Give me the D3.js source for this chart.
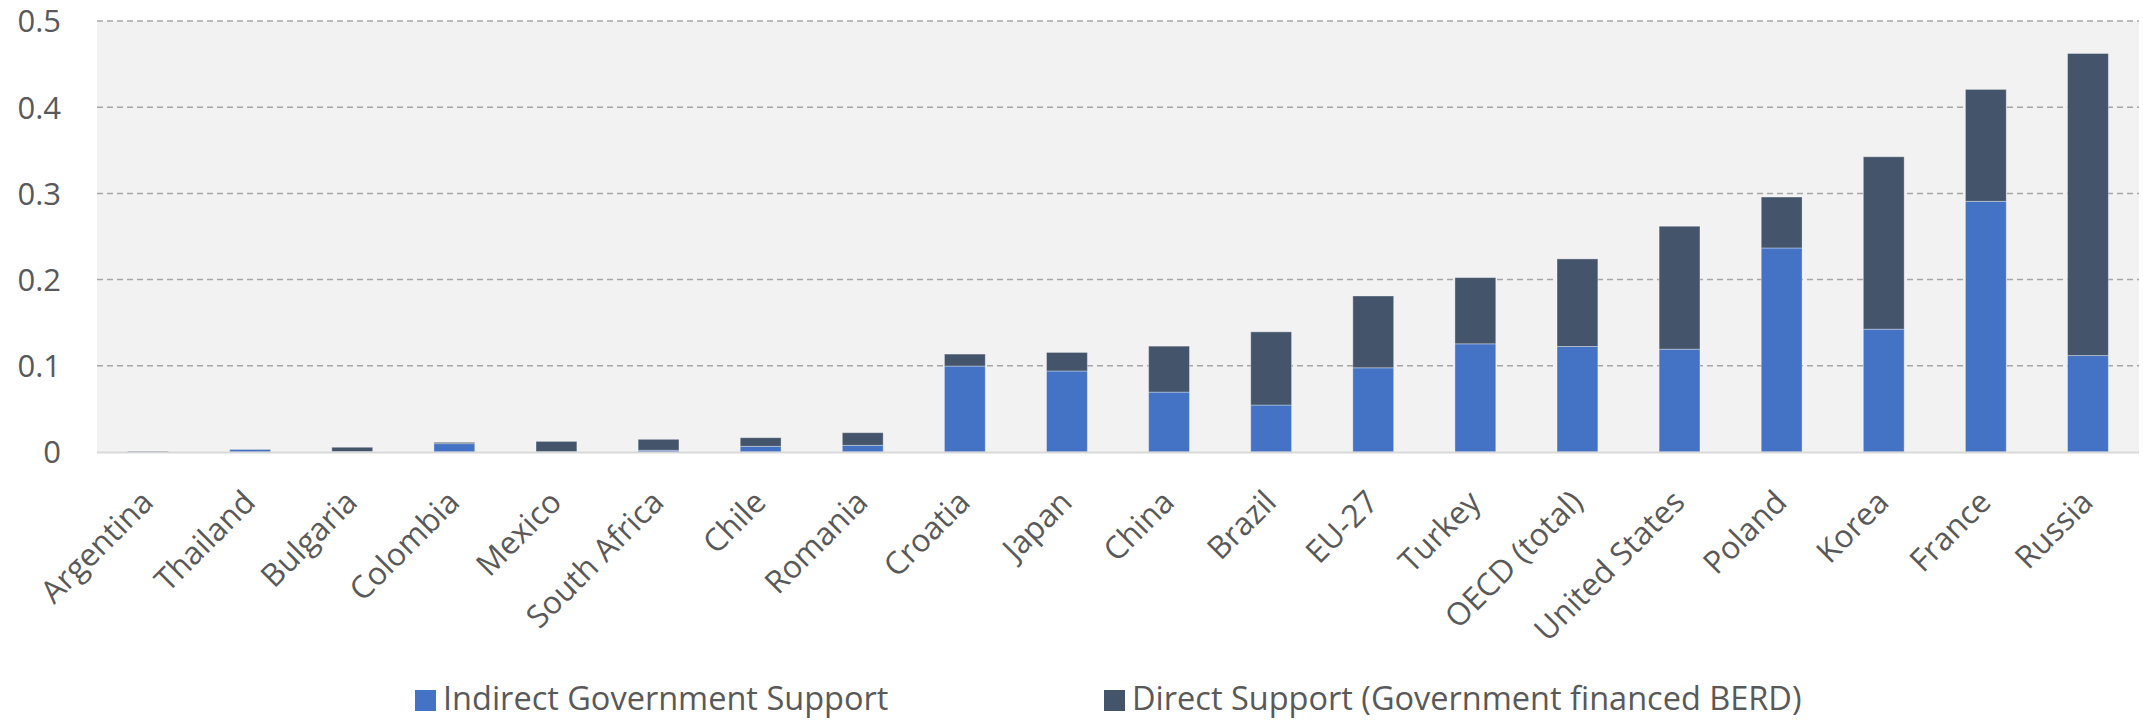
<!DOCTYPE html>
<html>
<head>
<meta charset="utf-8">
<script src="https://cdn.jsdelivr.net/npm/d3@7/dist/d3.min.js"></script>
<style>
  html, body { margin: 0; padding: 0; background: #ffffff; }
  svg { display: block; }
  text { font-family: "Open Sans", "Noto Sans", sans-serif; fill: #595959; }
</style>
</head>
<body>
<svg id="chart" width="2143" height="721"></svg>
<script>
// Government support for business R&D, % of GDP
const countries = ["Argentina", "Thailand", "Bulgaria", "Colombia", "Mexico", "South Africa", "Chile",
  "Romania", "Croatia", "Japan", "China", "Brazil", "EU-27", "Turkey", "OECD (total)",
  "United States", "Poland", "Korea", "France", "Russia"];

const indirectSupport = [0.0003, 0.003, 0.0005, 0.0097, 0.0003, 0.002, 0.0066, 0.0077, 0.0997, 0.094,
  0.0695, 0.0545, 0.0977, 0.1255, 0.1224, 0.1193, 0.2367, 0.1425, 0.2908, 0.1119];

const directSupport = [0.0008, 0.0003, 0.005, 0.0015, 0.012, 0.0127, 0.01, 0.0147, 0.0139, 0.0215,
  0.0533, 0.0849, 0.0833, 0.0768, 0.1016, 0.1426, 0.0591, 0.2, 0.1298, 0.3504];

const seriesNames = ["Indirect Government Support", "Direct Support (Government financed BERD)"];
const seriesColors = ["#4472C4", "#44546A"];
const yTicks = [0, 0.1, 0.2, 0.3, 0.4, 0.5];

const svg = d3.select("#chart");
const plot = { left: 97, right: 2139, top: 21, bottom: 452 };

const x = d3.scaleBand()
  .domain(countries)
  .range([plot.left, plot.right])
  .paddingInner(0.6)
  .paddingOuter(0.3);

const y = d3.scaleLinear()
  .domain([0, 0.5])
  .range([plot.bottom, plot.top]);

// plot background
svg.append("rect")
  .attr("x", plot.left)
  .attr("y", plot.top)
  .attr("width", plot.right - plot.left)
  .attr("height", plot.bottom - plot.top)
  .attr("fill", "#F2F2F2");

// dashed horizontal gridlines
svg.append("g")
  .selectAll("line")
  .data(yTicks.filter(d => d > 0))
  .join("line")
  .attr("x1", plot.left)
  .attr("x2", plot.right)
  .attr("y1", d => y(d))
  .attr("y2", d => y(d))
  .attr("stroke", "#A6A6A6")
  .attr("stroke-width", 1.5)
  .attr("stroke-dasharray", "6,4");

// y axis labels
const yAxis = d3.axisLeft(y)
  .tickValues(yTicks)
  .tickSize(0)
  .tickPadding(0)
  .tickFormat(d => d === 0 ? "0" : d3.format(".1f")(d));

const yG = svg.append("g")
  .attr("transform", `translate(${61},0)`)
  .call(yAxis);
yG.select(".domain").remove();
yG.selectAll("text")
  .attr("font-size", 31)
  .attr("font-family", "Open Sans")
  .attr("fill", "#595959")
  .attr("dy", "0.35em");

// stacked series
const rows = countries.map((c, i) => ({ country: c, indirect: indirectSupport[i], direct: directSupport[i] }));
const stack = d3.stack().keys(["indirect", "direct"]);
const layers = stack(rows);

svg.append("g")
  .selectAll("g")
  .data(layers)
  .join("g")
  .attr("fill", (d, i) => seriesColors[i])
  .selectAll("rect")
  .data(d => d)
  .join("rect")
  .attr("x", d => x(d.data.country))
  .attr("width", x.bandwidth())
  .attr("y", d => y(d[1]))
  .attr("height", d => y(d[0]) - y(d[1]))
  .attr("stroke", "rgba(255,255,255,0.35)")
  .attr("stroke-width", 1);

// baseline
svg.append("line")
  .attr("x1", plot.left)
  .attr("x2", plot.right)
  .attr("y1", y(0) + 0.5)
  .attr("y2", y(0) + 0.5)
  .attr("stroke", "#D9D9D9")
  .attr("stroke-width", 2);

// rotated category labels
svg.append("g")
  .selectAll("text")
  .data(countries)
  .join("text")
  .attr("transform", d => `translate(${x(d) + x.bandwidth() / 2 + 7},${504}) rotate(-45)`)
  .attr("text-anchor", "end")
  .attr("font-size", 31.5)
  .text(d => d);

// legend
const legendItems = [
  { name: seriesNames[0], color: seriesColors[0], x: 415 },
  { name: seriesNames[1], color: seriesColors[1], x: 1104 }
];
const legend = svg.append("g");
const li = legend.selectAll("g")
  .data(legendItems)
  .join("g")
  .attr("transform", d => `translate(${d.x},690)`);
li.append("rect")
  .attr("width", 21)
  .attr("height", 21)
  .attr("fill", d => d.color);
li.append("text")
  .attr("x", 28)
  .attr("y", 20)
  .attr("font-size", 32.5)
  .text(d => d.name);
</script>
</body>
</html>
